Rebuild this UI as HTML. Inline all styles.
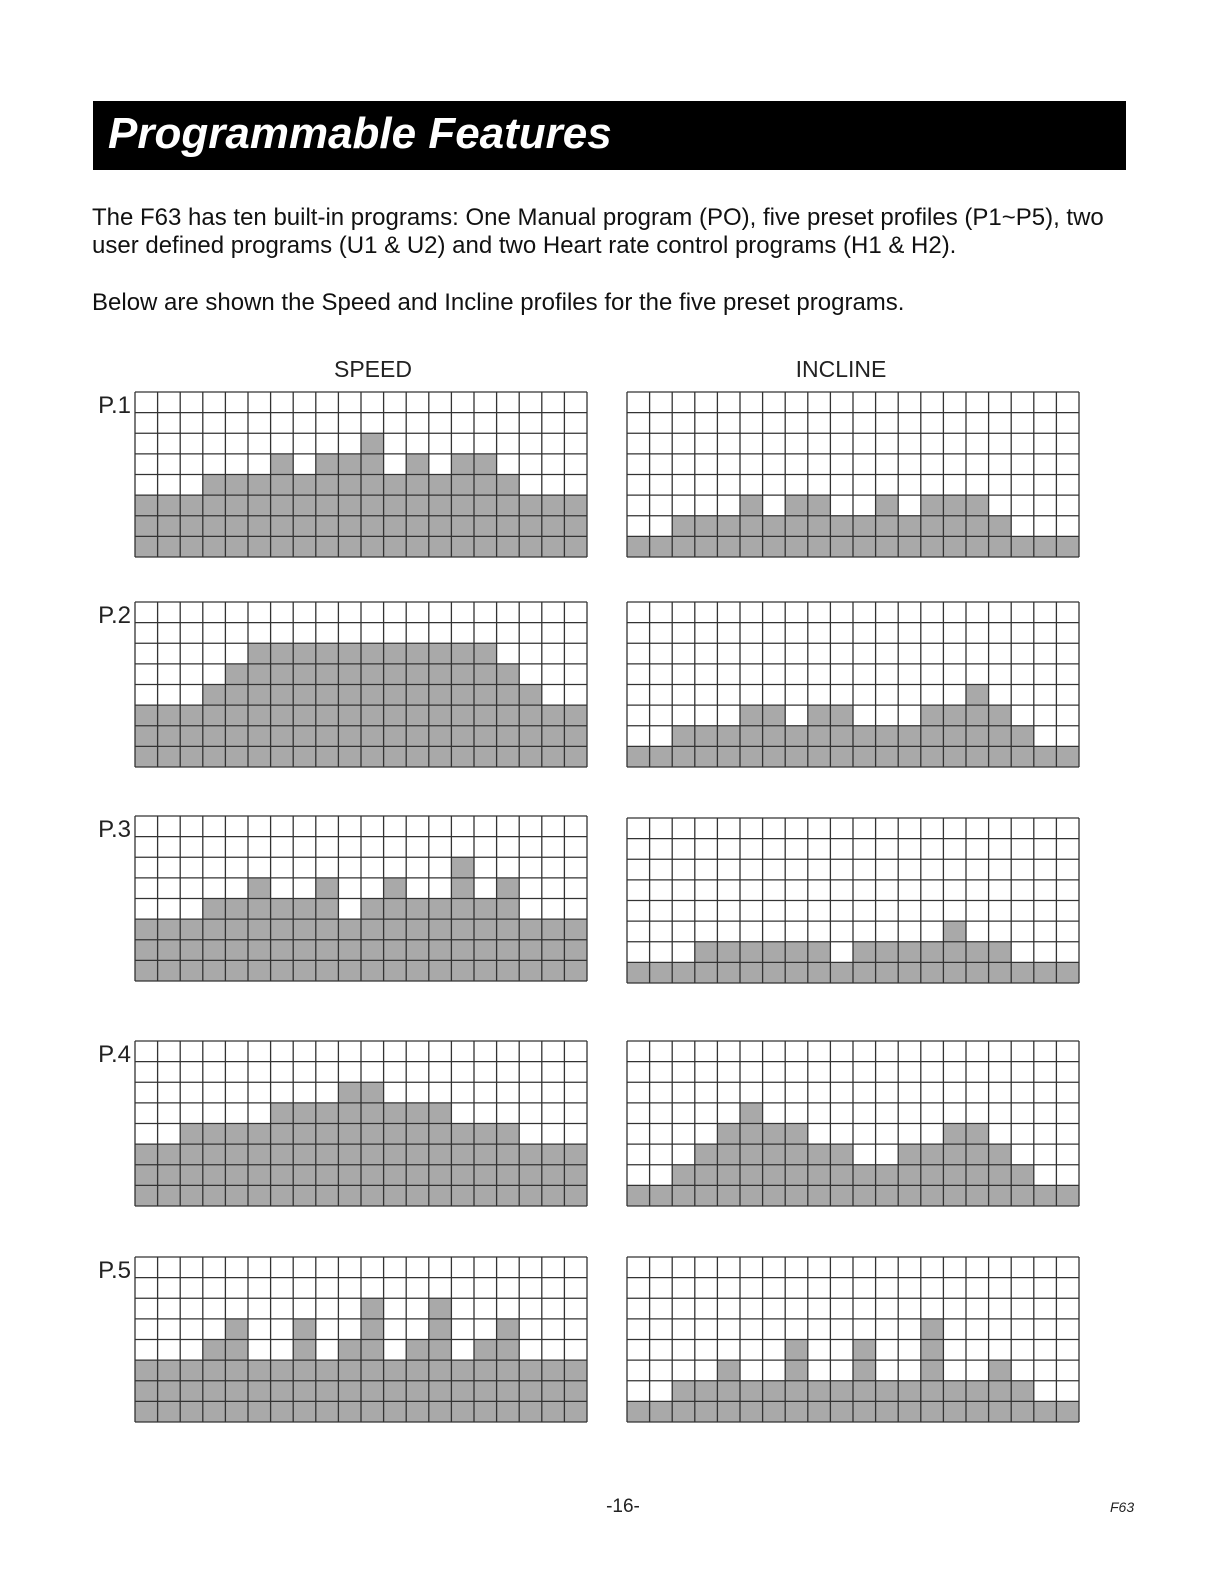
<!DOCTYPE html>
<html><head><meta charset="utf-8">
<style>
body{margin:0;background:#fff;width:1224px;height:1584px;position:relative;font-family:"Liberation Sans",Arial,sans-serif;overflow:hidden}
.bar{position:absolute;left:93px;top:101px;width:1033px;height:69px;background:#000}
.bar span{position:absolute;left:15px;top:8px;color:#fff;font-weight:bold;font-style:italic;font-size:44px}
.p{position:absolute;left:92px;font-size:24px;color:#111;white-space:nowrap}
</style></head><body>
<div class="bar"><span>Programmable Features</span></div>
<div class="p" style="top:204px">The F63 has ten built-in programs: One Manual program (PO), five preset profiles (P1~P5), two</div>
<div class="p" style="top:232px">user defined programs (U1 &amp; U2) and two Heart rate control programs (H1 &amp; H2).</div>
<div class="p" style="top:289px">Below are shown the Speed and Incline profiles for the five preset programs.</div>
<svg id="s" width="1224" height="1584" style="position:absolute;left:0;top:0" xmlns="http://www.w3.org/2000/svg">
<text x="373" y="377" font-size="23" text-anchor="middle" font-family="Liberation Sans, sans-serif" fill="#222">SPEED</text>
<text x="841" y="377" font-size="23" text-anchor="middle" font-family="Liberation Sans, sans-serif" fill="#222">INCLINE</text>
<text x="623" y="1512" font-size="19" text-anchor="middle" font-family="Liberation Sans, sans-serif" fill="#222">-16-</text>
<text x="1110" y="1512" font-size="14" font-style="italic" font-family="Liberation Sans, sans-serif" fill="#222">F63</text>
</svg>
<script>
var S=document.getElementById('s');
var data=[
[392,392,[3,3,3,4,4,4,5,4,5,5,6,4,5,4,5,5,4,3,3,3],[1,1,2,2,2,3,2,3,3,2,2,3,2,3,3,3,2,1,1,1]],
[602,602,[3,3,3,4,5,6,6,6,6,6,6,6,6,6,6,6,5,4,3,3],[1,1,2,2,2,3,3,2,3,3,2,2,2,3,3,4,3,2,1,1]],
[816,818,[3,3,3,4,4,5,4,4,5,3,4,5,4,4,6,4,5,3,3,3],[1,1,1,2,2,2,2,2,2,1,2,2,2,2,3,2,2,1,1,1]],
[1041,1041,[3,3,4,4,4,4,5,5,5,6,6,5,5,5,4,4,4,3,3,3],[1,1,2,3,4,5,4,4,3,3,2,2,3,3,4,4,3,2,1,1]],
[1257,1257,[3,3,3,4,5,3,3,5,3,4,6,3,4,6,3,4,5,3,3,3],[1,1,2,2,3,2,2,4,2,2,4,2,2,5,2,2,3,2,1,1]]];
var W=452,H=165,cw=W/20,rh=H/8,h='';
function grid(x,y,v){
 for(var i=0;i<20;i++){var n=v[i];h+='<rect x="'+(x+i*cw)+'" y="'+(y+(8-n)*rh)+'" width="'+cw+'" height="'+(n*rh)+'" fill="#a9a9a9"/>';}
 for(var i=0;i<=20;i++)h+='<line x1="'+(x+i*cw)+'" y1="'+y+'" x2="'+(x+i*cw)+'" y2="'+(y+H)+'" stroke="#333" stroke-width="1.3"/>';
 for(var j=0;j<=8;j++)h+='<line x1="'+x+'" y1="'+(y+j*rh)+'" x2="'+(x+W)+'" y2="'+(y+j*rh)+'" stroke="#333" stroke-width="1.3"/>';
}
data.forEach(function(d,k){
 grid(135,d[0],d[2]);grid(627,d[1],d[3]);
 h+='<text x="131" y="'+(d[0]+21)+'" font-size="24" text-anchor="end" font-family="Liberation Sans Narrow, Liberation Sans, sans-serif" fill="#222">P.'+(k+1)+'</text>';
});
S.insertAdjacentHTML('beforeend',h);
</script>
</body></html>
